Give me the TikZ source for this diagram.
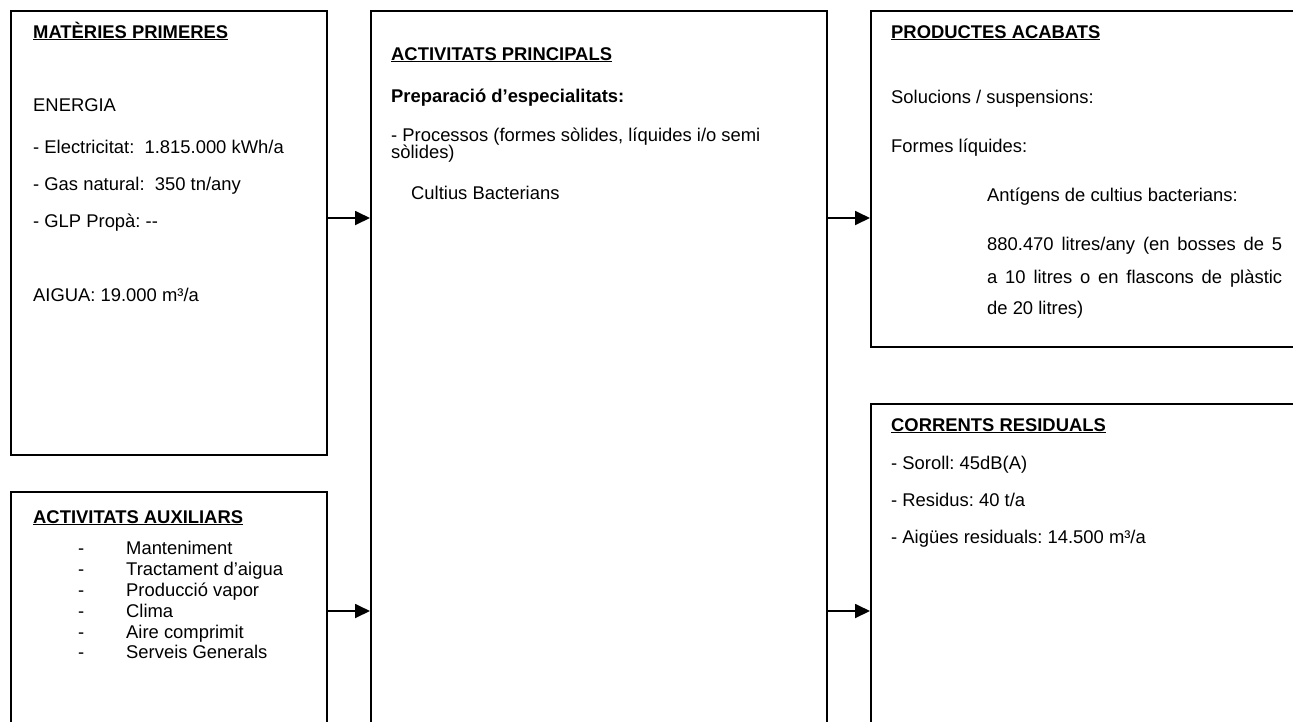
\documentclass[tikz,border=0pt]{standalone}
\usepackage{fontspec}
\setmainfont{Liberation Sans}
\frenchspacing
\usetikzlibrary{arrows.meta}
\tikzset{
  box/.style={draw=black, line width=1.8pt, rectangle, inner sep=0pt, anchor=north west},
  txt/.style={inner sep=0pt, anchor=base west, font=\fontsize{18.4}{20}\selectfont},
  arr/.style={line width=1.8pt, -{Triangle[length=15pt,width=14pt]}},
}
\newcommand{\ttl}[1]{\textbf{\underline{#1}}}
\begin{document}
\begin{tikzpicture}[x={(1pt,0)}, y={(0,-1pt)}]
\useasboundingbox (0,0) rectangle (1293,721);
\clip (0,0) rectangle (1293,721);
\fill[white] (0,0) rectangle (1293,721);
% boxes
\node[box, minimum width=316pt, minimum height=444pt] (mp) at (10,10) {};
\node[box, minimum width=316pt, minimum height=260pt] (aux) at (10,491) {};
\node[box, minimum width=456pt, minimum height=740pt] (main) at (370,10) {};
\node[box, minimum width=460pt, minimum height=336pt] (prod) at (870,10) {};
\node[box, minimum width=460pt, minimum height=360pt] (res) at (870,403) {};
% connectors
\coordinate (r1) at (0,218);
\coordinate (r2) at (0,611);
\draw[arr] (mp.east |- r1) -- (main.west |- r1);
\draw[arr] (aux.east |- r2) -- (main.west |- r2);
\draw[arr] (main.east |- r1) -- (prod.west |- r1);
\draw[arr] (main.east |- r2) -- (res.west |- r2);
% Materies primeres
\node[txt] (mp1) at (33,38) {\ttl{MATÈRIES PRIMERES}};
\node[txt] (mp2) at (33,111) {ENERGIA};
\node[txt] (mp3) at (33,153) {- Electricitat:\ \ 1.815.000 kWh/a};
\node[txt] (mp4) at (33,190) {- Gas natural:\ \ 350 tn/any};
\node[txt] (mp5) at (33,227) {- GLP Propà: -{}-};
\node[txt] (mp6) at (33,301) {AIGUA: 19.000 m³/a};
% Activitats auxiliars
\node[txt] (ax0) at (33,523) {\ttl{ACTIVITATS AUXILIARS}};
\foreach \t [count=\i] in {Manteniment, Tractament d’aigua, Producció vapor, Clima, Aire comprimit, Serveis Generals}{
  \node[txt] (axd\i) at (78,534+20.8*\i) {-};
  \node[txt] (ax\i) at (126,534+20.8*\i) {\t};
}
% Activitats principals
\node[txt] (ap1) at (391,60) {\ttl{ACTIVITATS PRINCIPALS}};
\node[txt] (ap2) at (391,102) {\textbf{Preparació d’especialitats:}};
\node[txt] (ap3) at (391,141) {- Processos (formes sòlides, líquides i/o semi};
\node[txt] (ap4) at (391,158) {sòlides)};
\node[txt] (ap5) at (411,199) {Cultius Bacterians};
% Productes acabats
\node[txt] (pa1) at (891,38) {\ttl{PRODUCTES ACABATS}};
\node[txt] (pa2) at (891,103) {Solucions / suspensions:};
\node[txt] (pa3) at (891,152) {Formes líquides:};
\node[txt] (pa4) at (987,201) {Antígens de cultius bacterians:};
\node[txt] (pa5) at (987,250) {\makebox[295pt][s]{880.470 litres/any (en bosses de 5}};
\node[txt] (pa6) at (987,283) {\makebox[295pt][s]{a 10 litres o en flascons de plàstic}};
\node[txt] (pa7) at (987,314) {de 20 litres)};
% Corrents residuals
\node[txt] (cr1) at (891,431) {\ttl{CORRENTS RESIDUALS}};
\node[txt] (cr2) at (891,469) {- Soroll: 45dB(A)};
\node[txt] (cr3) at (891,506) {- Residus: 40 t/a};
\node[txt] (cr4) at (891,543) {- Aigües residuals: 14.500 m³/a};
\end{tikzpicture}
\end{document}
